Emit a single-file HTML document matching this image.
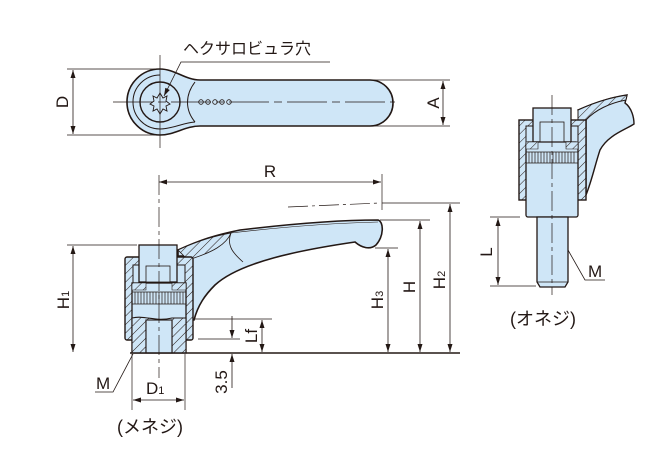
<!DOCTYPE html>
<html><head><meta charset="utf-8"><style>
html,body{margin:0;padding:0;background:#fff}
svg{display:block}
text{font-family:"Liberation Sans","Noto Sans CJK JP",sans-serif;fill:#231815}
</style></head><body>
<svg width="669" height="467" viewBox="0 0 669 467" xmlns="http://www.w3.org/2000/svg">
<defs>
<pattern id="h" patternUnits="userSpaceOnUse" width="6" height="6" patternTransform="rotate(45)">
<rect width="6" height="6" fill="#cfe6f7"/><line x1="0" y1="0" x2="0" y2="6" stroke="#231815" stroke-width="1"/>
</pattern>
<marker id="a" markerWidth="8" markerHeight="6" refX="8" refY="3" orient="auto-start-reverse" markerUnits="userSpaceOnUse"><path d="M0,0.5 L8,3 L0,5.5z" fill="#231815"/></marker>
</defs>
<g stroke="#231815" fill="none" stroke-width="1">
<!-- TOP VIEW -->
<path d="M160,69 A33,33 0 1 0 160,135 C175,135 185,126 200,126 L370,126 A23,23 0 0 0 370,80 L200,80 C185,80 175,69 160,69Z" fill="#cfe6f7" stroke-width="1.6"/>
<path d="M160,75 A27,27 0 1 0 160,129 C172,129 182,123 195,122" />
<circle cx="160" cy="102" r="20" stroke-width="1.4"/>
<path d="M195,82 C185,95 185,110 195,122"/>
<path d="M153,96 l4,2 3,-5 3,5 4,-2 -1,5 4,3 -4,2 1,5 -4,-2 -3,5 -3,-5 -4,2 1,-5 -4,-2 4,-3z" stroke-width="0.9"/>
<g stroke-width="0.8"><circle cx="201" cy="102" r="2.3"/><circle cx="208" cy="102" r="2.3"/><circle cx="215" cy="102" r="2.3"/><circle cx="222" cy="102" r="2.3"/><circle cx="229" cy="102" r="2.3"/></g>
<line x1="113" y1="102" x2="395" y2="102" stroke-width="0.7" stroke-dasharray="40,5,8,5"/>
<line x1="160" y1="55" x2="160" y2="148" stroke-width="0.7"/>
<line x1="67" y1="69" x2="160" y2="69" stroke-width="0.7"/><line x1="67" y1="135" x2="160" y2="135" stroke-width="0.7"/>
<line x1="73" y1="70" x2="73" y2="134" marker-start="url(#a)" marker-end="url(#a)" stroke-width="0.8"/>
<line x1="370" y1="80" x2="450" y2="80" stroke-width="0.7"/><line x1="370" y1="126" x2="450" y2="126" stroke-width="0.7"/>
<line x1="443" y1="81" x2="443" y2="125" marker-start="url(#a)" marker-end="url(#a)" stroke-width="0.8"/>
<path d="M330,62 L181,62 L164,96" stroke-width="0.8" marker-end="url(#a)"/>

<!-- SIDE VIEW -->
<path d="M178,256 L178,250 C200,240 215,235 240,230 C290,224 340,220 378,220 C384,222 384,236 376,245 C370,250 362,248 355,242 C300,250 240,262 215,285 C205,295 198,305 194,320 L186,320 L186,256Z" fill="#cfe6f7" stroke-width="1.6"/>
<path d="M186,258 L178,250 C200,240 215,236 231,233 C226,245 212,252 194,258Z" fill="url(#h)" stroke-width="0.8"/>
<path d="M231,233 C226,246 234,254 243,262" stroke-width="0.8"/>
<path d="M231,233 C290,226 340,223 378,222" stroke-width="0.6"/>
<rect x="125" y="257" width="68" height="83" rx="2" fill="url(#h)" stroke-width="1.4"/>
<rect x="133" y="265" width="52" height="53" fill="#cfe6f7"/>
<rect x="139" y="245" width="38" height="37" fill="#cfe6f7" stroke-width="1.3"/>
<rect x="146" y="266" width="24" height="16" fill="#cfe6f7" stroke-width="0.8"/>
<rect x="132" y="283" width="54" height="70" fill="#cfe6f7" stroke-width="1.3"/>
<path d="M132,283 h14 v7 h-14z M172,283 h14 v7 h-14z" fill="url(#h)" stroke-width="0.6"/>
<g stroke-width="0.7"><path d="M135,292 v12 M138,292 v12 M141,292 v12 M144,292 v12 M147,292 v12 M150,292 v12 M153,292 v12 M156,292 v12 M159,292 v12 M162,292 v12 M165,292 v12 M168,292 v12 M171,292 v12 M174,292 v12 M177,292 v12 M180,292 v12 M183,292 v12"/><line x1="132" y1="292" x2="186" y2="292"/><line x1="132" y1="304" x2="186" y2="304"/></g>
<path d="M132,318 C145,315 155,322 172,318 L186,318 L186,353 L172,353 L172,320 L146,320 L146,353 L132,353Z" fill="url(#h)" stroke-width="1.1"/>
<rect x="146" y="320" width="26" height="33" fill="#cfe6f7" stroke-width="1.1"/>
<line x1="159" y1="175" x2="159" y2="378" stroke-width="0.7" stroke-dasharray="20,4,4,4"/>
<line x1="130" y1="353" x2="460" y2="353" stroke-width="1.4"/>
<line x1="159" y1="182" x2="381" y2="182" marker-start="url(#a)" marker-end="url(#a)" stroke-width="0.8"/>
<line x1="382" y1="174" x2="382" y2="210" stroke-width="0.7"/>
<path d="M288,207 L380,203" stroke-width="0.7" stroke-dasharray="20,4,3,4"/>
<line x1="382" y1="203" x2="460" y2="203" stroke-width="0.7"/>
<line x1="380" y1="220" x2="430" y2="220" stroke-width="0.7"/>
<line x1="375" y1="248" x2="398" y2="248" stroke-width="0.7"/>
<line x1="450" y1="204" x2="450" y2="352" marker-start="url(#a)" marker-end="url(#a)" stroke-width="0.8"/>
<line x1="420" y1="221" x2="420" y2="352" marker-start="url(#a)" marker-end="url(#a)" stroke-width="0.8"/>
<line x1="388" y1="249" x2="388" y2="352" marker-start="url(#a)" marker-end="url(#a)" stroke-width="0.8"/>
<line x1="67" y1="245" x2="137" y2="245" stroke-width="0.7"/>
<line x1="73" y1="246" x2="73" y2="352" marker-start="url(#a)" marker-end="url(#a)" stroke-width="0.8"/>
<line x1="193" y1="319" x2="272" y2="319" stroke-width="0.7"/>
<line x1="198" y1="339" x2="240" y2="339" stroke-width="0.7"/>
<line x1="262" y1="320" x2="262" y2="352" marker-start="url(#a)" marker-end="url(#a)" stroke-width="0.8"/>
<line x1="232" y1="316" x2="232" y2="338" marker-end="url(#a)" stroke-width="0.8"/>
<line x1="232" y1="388" x2="232" y2="354" marker-end="url(#a)" stroke-width="0.8"/>
<path d="M95,392 L113,392 L133,354" stroke-width="0.8"/>
<line x1="132" y1="354" x2="132" y2="410" stroke-width="0.7"/><line x1="185" y1="354" x2="185" y2="410" stroke-width="0.7"/>
<line x1="133" y1="400" x2="184" y2="400" marker-start="url(#a)" marker-end="url(#a)" stroke-width="0.8"/>

<!-- RIGHT VIEW -->
<path d="M578,110 C600,100 615,97 627,95 L625,103 C632,108 634,118 634,124 C625,130 608,135 600,150 C595,165 592,180 586,195 L586,120Z" fill="#cfe6f7" stroke-width="1.4"/>
<path d="M578,110 C600,100 615,97 627,95 L626,100 C610,103 595,110 586,120 L586,195 L578,195 Z" fill="url(#h)"/>
<rect x="519" y="120" width="67" height="80" fill="url(#h)" stroke-width="1.4"/>
<rect x="526" y="126" width="52" height="20" fill="#cfe6f7"/>
<rect x="533" y="108" width="38" height="34" fill="#cfe6f7" stroke-width="1.3"/>
<rect x="540" y="122" width="24" height="20" fill="#cfe6f7" stroke-width="0.8"/>
<rect x="526" y="142" width="52" height="75" rx="2" fill="#cfe6f7" stroke-width="1.3"/>
<g stroke-width="0.7"><path d="M529,152 v11 M532,152 v11 M535,152 v11 M538,152 v11 M541,152 v11 M544,152 v11 M547,152 v11 M550,152 v11 M553,152 v11 M556,152 v11 M559,152 v11 M562,152 v11 M565,152 v11 M568,152 v11 M571,152 v11 M574,152 v11"/><line x1="526" y1="152" x2="578" y2="152" /><line x1="526" y1="163" x2="578" y2="163"/></g>
<path d="M526,142 h12 v7 h-12z M566,142 h12 v7 h-12z" fill="url(#h)" stroke-width="0.6"/>
<path d="M537,217 L568,217 L568,282 L565,287 L540,287 L537,282Z" fill="#cfe6f7" stroke-width="1.3"/>
<line x1="537" y1="282" x2="568" y2="282" stroke-width="0.7"/>
<line x1="552" y1="95" x2="552" y2="295" stroke-width="0.7" stroke-dasharray="20,4,4,4"/>
<line x1="490" y1="217" x2="520" y2="217" stroke-width="0.7"/><line x1="490" y1="286" x2="536" y2="286" stroke-width="0.7"/>
<line x1="498" y1="218" x2="498" y2="285" marker-start="url(#a)" marker-end="url(#a)" stroke-width="0.8"/>
<path d="M605,280 L585,280 L568,250" stroke-width="0.8"/>
</g>
<g font-size="17">
<text x="183" y="54" font-size="16">ヘクサロビュラ穴</text>
<text transform="translate(68,102) rotate(-90)" text-anchor="middle">D</text>
<text transform="translate(439,103) rotate(-90)" text-anchor="middle">A</text>
<text x="270" y="177" text-anchor="middle">R</text>
<text transform="translate(69,300) rotate(-90)" text-anchor="middle">H<tspan font-size="11">1</tspan></text>
<text transform="translate(383,300) rotate(-90)" text-anchor="middle">H<tspan font-size="11">3</tspan></text>
<text transform="translate(415,287) rotate(-90)" text-anchor="middle">H</text>
<text transform="translate(445,280) rotate(-90)" text-anchor="middle">H<tspan font-size="11">2</tspan></text>
<text transform="translate(257,336) rotate(-90)" text-anchor="middle">Lf</text>
<text transform="translate(227,382) rotate(-90)" text-anchor="middle">3.5</text>
<text x="96" y="389">M</text>
<text x="146" y="394">D<tspan font-size="11">1</tspan></text>
<text x="117" y="433" font-size="18">(メネジ)</text>
<text transform="translate(492,252) rotate(-90)" text-anchor="middle">L</text>
<text x="588" y="277">M</text>
<text x="510" y="325" font-size="18">(オネジ)</text>
</g>
</svg>
</body></html>
